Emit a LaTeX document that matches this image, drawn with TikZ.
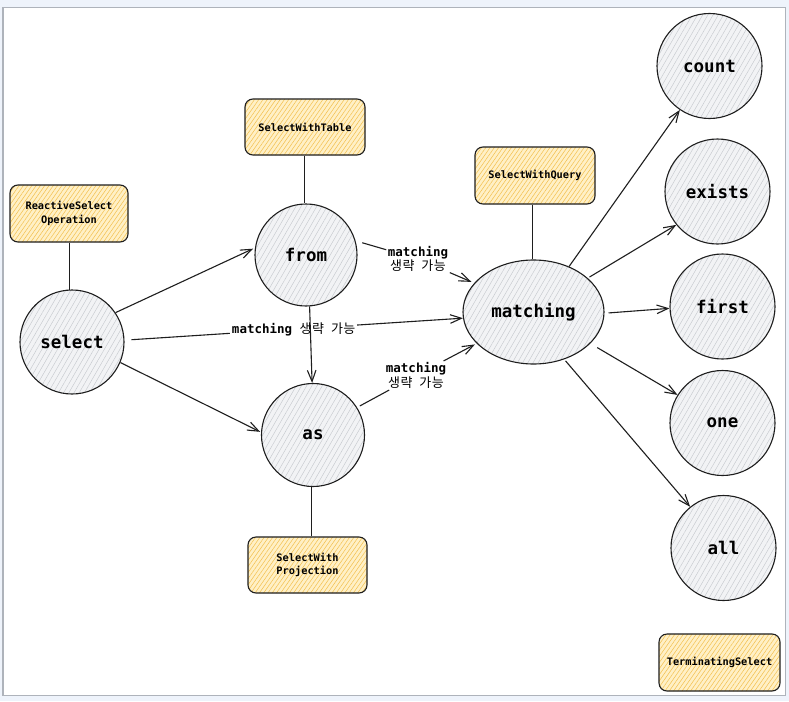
\documentclass[tikz,border=0pt]{standalone}
\usepackage{fontspec}
\setmonofont{DejaVu Sans Mono}
\newfontfamily\krfont[LetterSpace=4,WordSpace=2]{Noto Sans CJK KR}
\usetikzlibrary{arrows.meta,patterns.meta,shapes.geometric}
\definecolor{ink}{HTML}{1E1E1E}
\definecolor{pagebg}{HTML}{EEF3FB}
\definecolor{framecol}{HTML}{AEB3BB}
\definecolor{circfill}{HTML}{F2F3F5}
\definecolor{circhatch}{HTML}{C6C9CE}
\definecolor{boxfill}{HTML}{FFF0C6}
\definecolor{boxhatch}{HTML}{F3BF4C}
\newcommand{\kr}[1]{{\krfont\mdseries\fontsize{13}{14.5}\selectfont #1}}
\tikzset{
  circ/.style={circle, draw=ink, line width=1.1pt, minimum size=104pt, inner sep=0pt,
    preaction={fill=circfill},
    preaction={pattern={Lines[angle=60,distance=4.5pt,line width=0.45pt]}, pattern color=circhatch},
    font=\ttfamily\bfseries\fontsize{17.5}{20}\selectfont},
  ell/.style={ellipse, draw=ink, line width=1.1pt, minimum width=141pt, minimum height=104pt, inner sep=0pt,
    preaction={fill=circfill},
    preaction={pattern={Lines[angle=60,distance=4.5pt,line width=0.45pt]}, pattern color=circhatch},
    font=\ttfamily\bfseries\fontsize{17.5}{20}\selectfont},
  tbox/.style={rectangle, rounded corners=8pt, draw=ink, line width=1.1pt, minimum width=119pt, minimum height=57pt,
    inner sep=2pt, align=center,
    preaction={fill=boxfill},
    preaction={pattern={Lines[angle=55,distance=3.5pt,line width=0.5pt]}, pattern color=boxhatch},
    font=\ttfamily\bfseries\fontsize{10.3}{13.5}\selectfont},
  elab/.style={fill=white, inner sep=1.5pt, align=center,
    font=\ttfamily\bfseries\fontsize{12.5}{14.5}\selectfont},
  conn/.style={draw=ink, line width=1.1pt},
  arr/.style={draw=ink, line width=1.1pt, -{Straight Barb[angle=42:12pt, line width=1.1pt]}},
}
\begin{document}
\begin{tikzpicture}[x=1pt,y=-1pt]
\useasboundingbox (0,0) rectangle (789,701);
\fill[pagebg] (0,0) rectangle (789,701);
\draw[framecol, line width=1.5pt, fill=white] (3,7.5) rectangle (785.5,695.5);

% circles
\node[circ] (select) at (72,342) {select};
\node[circ, minimum size=102pt] (from) at (306,255) {from};
\node[circ, minimum size=103pt] (as) at (313,435) {as};
\node[ell] (matching) at (533.5,312) {matching};
\node[circ, minimum size=105pt] (count) at (709.5,66) {count};
\node[circ, minimum size=105pt] (exists) at (717.5,191.5) {exists};
\node[circ, minimum size=105pt] (first) at (722.5,306.5) {first};
\node[circ, minimum size=105pt] (one) at (722.5,423) {one};
\node[circ, minimum size=105pt] (all) at (723.5,548) {all};

% boxes
\node[tbox, minimum width=118pt] (rso) at (69,213.5) {ReactiveSelect\\Operation};
\node[tbox, minimum width=120pt, minimum height=56pt] (swt) at (305,127) {SelectWithTable};
\node[tbox, minimum width=120pt] (swq) at (535,175.5) {SelectWithQuery};
\node[tbox, minimum height=56pt] (swp) at (307.5,565) {SelectWith\\Projection};
\node[tbox, minimum width=121pt] (ts) at (719.5,662.5) {TerminatingSelect};

% box connectors
\draw[conn] (rso.south -| select.93) -- (select.93);
\draw[conn] (swt.south -| from.92) -- (from.92);
\draw[conn] (swq.south -| matching.91) -- (matching.91);
\draw[conn] (swp.north -| as.268) -- (as.268);

% arrows from select
\draw[arr, shorten >=2pt] (select.34) -- (from.172);
\draw[arr, shorten <=7pt] (select.2) -- node[elab, pos=0.5] (lab0) {matching \kr{생략 가능}} (matching.185);
\draw[arr, shorten >=1pt] (select.337) -- (as.177);
\draw[arr] (from.274) -- (as.91);

% from -> matching
\node[elab] (lab1) at (418,259) {matching\\\kr{생략 가능}};
\draw[conn, shorten <=7pt] (from.16) -- (lab1);
\draw[arr, shorten >=3pt] (lab1) -- (matching.154);

% as -> matching
\node[elab] (lab2) at (416,375.5) {matching\\\kr{생략 가능}};
\draw[conn, shorten <=3pt] (as.32) -- (lab2);
\draw[arr, shorten >=2pt] (lab2) -- (matching.209);

% matching -> terminals
\draw[arr] (matching.52) -- (count.236);
\draw[arr, shorten <=2pt] (matching.32) -- (exists.219);
\draw[arr, shorten <=4pt] (matching.359) -- (first.182);
\draw[arr, shorten <=8pt] (matching.331) -- (one.148);
\draw[arr, shorten <=2pt] (matching.303) -- (all.129);
\end{tikzpicture}
\end{document}
